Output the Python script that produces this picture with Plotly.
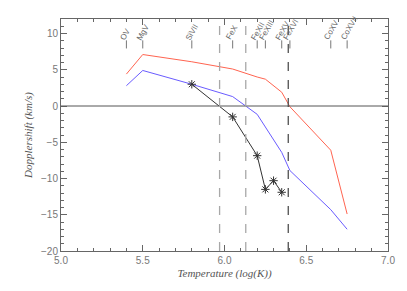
import plotly.graph_objects as go

temps = [5.4, 5.5, 5.8, 6.05, 6.2, 6.25, 6.35, 6.4, 6.65, 6.75]
ions = ["OV", "MgV", "SiVII", "FeX", "FeXII", "FeXIII", "FeXV", "FeXVI", "CoXV", "CoXVII"]
red_vals = [4.4, 7.1, 6.1, 5.1, 4.0, 3.7, 1.9, -0.1, -6.1, -14.9]
blue_vals = [2.8, 4.9, 3.0, 1.3, -1.15, -2.9, -6.4, -8.9, -14.3, -17.0]
obs_t = [5.8, 6.05, 6.2, 6.25, 6.3, 6.35]
obs_v = [3.0, -1.5, -6.85, -11.5, -10.3, -11.9]
dash_t = [5.97, 6.13, 6.39]
dash_colors = ["#a8a8a8", "#a8a8a8", "#505050"]

fig = go.Figure()
fig.add_trace(go.Scatter(x=temps, y=red_vals, mode="lines",
                         line=dict(color="#ff6450", width=1)))
fig.add_trace(go.Scatter(x=temps, y=blue_vals, mode="lines",
                         line=dict(color="#6a5cff", width=1)))
fig.add_trace(go.Scatter(x=obs_t, y=obs_v, mode="lines+markers",
                         line=dict(color="#333333", width=1),
                         marker=dict(symbol="asterisk-open", size=7,
                                     line=dict(color="#222222", width=1))))

# zero line
fig.add_shape(type="line", xref="paper", yref="y", x0=0, x1=1, y0=0, y1=0,
              line=dict(color="#555555", width=1))
for t, c in zip(dash_t, dash_colors):
    fig.add_shape(type="line", xref="x", yref="paper", x0=t, x1=t, y0=0, y1=1,
                  line=dict(color=c, width=1.3, dash="dash"))

for t, name in zip(temps, ions):
    fig.add_shape(type="line", xref="x", yref="paper", x0=t, x1=t, y0=0.873, y1=0.908,
                  line=dict(color="#777777", width=1))
    fig.add_annotation(x=t, y=0.908, xref="x", yref="paper", text=name,
                       showarrow=False, textangle=-60, xanchor="left", yanchor="bottom",
                       xshift=-11, yshift=-4,
                       font=dict(family="Liberation Sans", size=8, color="#666666"))

axis_common = dict(showgrid=False, zeroline=False, showline=True, linecolor="#666666",
                   linewidth=1, mirror="ticks", ticks="inside", ticklen=6,
                   tickcolor="#666666",
                   tickfont=dict(family="Liberation Sans", size=10, color="#777777"))

fig.update_xaxes(range=[5.0, 7.0], tickvals=[5.0, 5.5, 6.0, 6.5, 7.0],
                 ticktext=["5.0", "5.5", "6.0", "6.5", "7.0"],
                 minor=dict(dtick=0.1, ticks="inside", ticklen=3, tickcolor="#666666"),
                 title=dict(text="Temperature (log(K))", standoff=4,
                            font=dict(family="Liberation Serif", size=11, color="#555555",
                                      style="italic")),
                 **axis_common)
fig.update_yaxes(range=[-20, 12], tickvals=[-20, -15, -10, -5, 0, 5, 10],
                 ticktext=["\u221220", "\u221215", "\u221210", "\u22125", "0", "5", "10"],
                 minor=dict(dtick=1, ticks="inside", ticklen=3, tickcolor="#666666"),
                 title=dict(text="Dopplershift (km/s)", standoff=6,
                            font=dict(family="Liberation Serif", size=11, color="#555555",
                                      style="italic")),
                 **axis_common)

fig.update_layout(width=399, height=283, showlegend=False,
                  margin=dict(l=53, r=19, t=11, b=40),
                  paper_bgcolor="white", plot_bgcolor="white")

fig.write_html("out.html")
